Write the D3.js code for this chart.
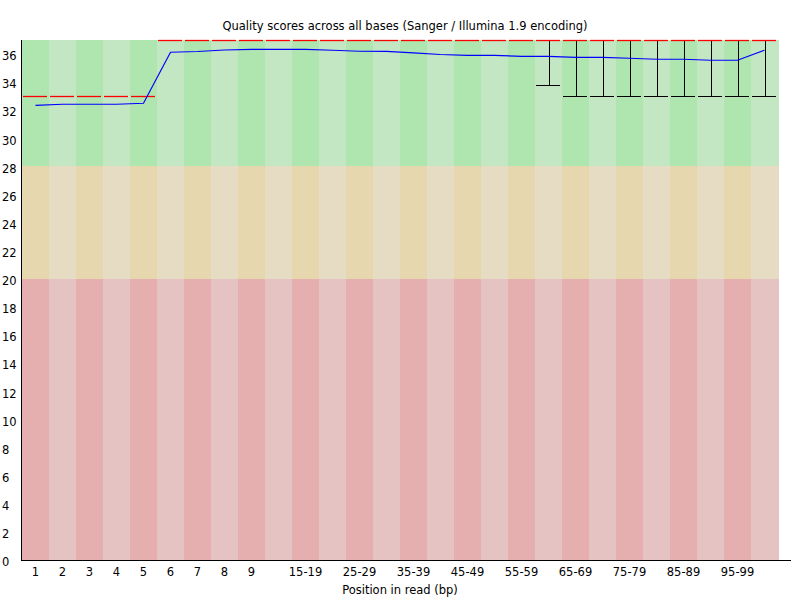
<!DOCTYPE html>
<html>
<head>
<meta charset="utf-8">
<script src="https://cdn.jsdelivr.net/npm/d3@7"></script>
<style>
  body { margin: 0; background: #fff; }
  svg text { font-family: "DejaVu Sans", sans-serif; font-size: 11.5px; fill: #000; }
</style>
</head>
<body>
<svg id="chart" width="800" height="600"></svg>
<script>
/* per base quality chart */
var categories = ["1","2","3","4","5","6","7","8","9","10-14","15-19","20-24","25-29",
  "30-34","35-39","40-44","45-49","50-54","55-59","60-64","65-69","70-74","75-79",
  "80-84","85-89","90-94","95-99","100"];
var meanQ = [32.35, 32.43, 32.43, 32.43, 32.5, 36.13, 36.18, 36.29, 36.34, 36.34, 36.33,
  36.27, 36.2, 36.19, 36.08, 35.97, 35.91, 35.9, 35.84, 35.84, 35.77, 35.77, 35.7,
  35.63, 35.63, 35.56, 35.56, 36.27];
var medianQ = [33, 33, 33, 33, 33, 37, 37, 37, 37, 37, 37, 37, 37, 37, 37, 37, 37, 37,
  37, 37, 37, 37, 37, 37, 37, 37, 37, 37];
var lowWhisker = [33, 33, 33, 33, 33, 37, 37, 37, 37, 37, 37, 37, 37, 37, 37, 37, 37, 37,
  37, 33.8, 33, 33, 33, 33, 33, 33, 33, 33];
var highWhisker = [33, 33, 33, 33, 33, 37, 37, 37, 37, 37, 37, 37, 37, 37, 37, 37, 37, 37,
  37, 37, 37, 37, 37, 37, 37, 37, 37, 37];
var xLabels = ["1","2","3","4","5","6","7","8","9","15-19","25-29","35-39","45-49",
  "55-59","65-69","75-79","85-89","95-99"];
var yTicks = [0, 2, 4, 6, 8, 10, 12, 14, 16, 18, 20, 22, 24, 26, 28, 30, 32, 34, 36];
var zones = [
  {from: 28, to: 37, dark: "rgb(175,230,175)", light: "rgb(195,230,195)"},
  {from: 20, to: 28, dark: "rgb(230,215,175)", light: "rgb(230,220,195)"},
  {from: 0, to: 20, dark: "rgb(230,175,175)", light: "rgb(230,195,195)"}
];

var svg = d3.select("#chart");

var x = d3.scaleBand().domain(categories).range([22, 778]).padding(0);
var y = d3.scaleLinear().domain([0, 37]).range([560, 40]);
var bw = x.bandwidth();

// Background stripes
zones.forEach(function(z) {
  svg.append("g").selectAll("rect")
    .data(categories)
    .enter()
    .append("rect")
    .attr("x", function(d) { return x(d); })
    .attr("width", bw + 0.5)
    .attr("y", y(z.to))
    .attr("height", y(z.from) - y(z.to))
    .attr("fill", function(d, i) { return i % 2 == 0 ? z.dark : z.light; })
    .attr("shape-rendering", "crispEdges");
});

var data = categories.map(function(c, i) {
  return {cat: c, mean: meanQ[i], median: medianQ[i], lo: lowWhisker[i], hi: highWhisker[i]};
});

// Whiskers
svg.append("g").selectAll("line.whisker")
  .data(data.filter(function(d) { return d.lo != d.hi; }))
  .enter()
  .append("line")
  .attr("class", "whisker")
  .attr("x1", function(d) { return Math.round(x(d.cat) + bw / 2) + 0.5; })
  .attr("x2", function(d) { return Math.round(x(d.cat) + bw / 2) + 0.5; })
  .attr("y1", function(d) { return y(d.lo); })
  .attr("y2", function(d) { return y(d.hi); })
  .attr("stroke", "#000");

svg.append("g").selectAll("line.cap")
  .data(data.filter(function(d) { return d.lo != d.hi; }))
  .enter()
  .append("line")
  .attr("class", "cap")
  .attr("x1", function(d) { return x(d.cat) + 1; })
  .attr("x2", function(d) { return x(d.cat) + bw - 2; })
  .attr("y1", function(d) { return Math.round(y(d.lo)) + 0.5; })
  .attr("y2", function(d) { return Math.round(y(d.lo)) + 0.5; })
  .attr("stroke", "#000");

// Median segments
svg.append("g").selectAll("line.median")
  .data(data)
  .enter()
  .append("line")
  .attr("class", "median")
  .attr("x1", function(d) { return x(d.cat) + 1; })
  .attr("x2", function(d) { return x(d.cat) + bw - 2; })
  .attr("y1", function(d) { return Math.round(y(d.median)) + 0.5; })
  .attr("y2", function(d) { return Math.round(y(d.median)) + 0.5; })
  .attr("stroke", "#f00")
  .attr("stroke-width", 1.3);

// Mean line
var meanLine = d3.line()
  .x(function(d) { return x(d.cat) + bw / 2; })
  .y(function(d) { return y(d.mean); });

svg.append("path")
  .datum(data)
  .attr("d", meanLine)
  .attr("fill", "none")
  .attr("stroke", "#0000ff")
  .attr("stroke-width", 1.2);

// Y axis
var yAxis = svg.append("g")
  .attr("transform", "translate(21.5,0)")
  .call(d3.axisLeft(y).tickValues(yTicks).tickSize(0).tickFormat(d3.format("d")));
yAxis.select(".domain").remove();
yAxis.selectAll("text")
  .attr("x", -19.5)
  .attr("y", 2)
  .attr("text-anchor", "start")
  .style("font-family", "DejaVu Sans, sans-serif")
  .style("font-size", "11.5px");

svg.append("line")
  .attr("x1", 21.5).attr("x2", 21.5)
  .attr("y1", 40).attr("y2", 560)
  .attr("stroke", "#000");

// X axis
var xAxis = svg.append("g")
  .attr("transform", "translate(0,560)")
  .call(d3.axisBottom(x).tickValues(xLabels).tickSize(0));
xAxis.select(".domain").remove();
xAxis.selectAll("text")
  .attr("y", 8)
  .style("font-family", "DejaVu Sans, sans-serif")
  .style("font-size", "11.5px");

svg.append("line")
  .attr("x1", 21).attr("x2", 791)
  .attr("y1", 560.5).attr("y2", 560.5)
  .attr("stroke", "#000");

// Titles
svg.append("text")
  .attr("x", 405)
  .attr("y", 29.5)
  .attr("text-anchor", "middle")
  .text("Quality scores across all bases (Sanger / Illumina 1.9 encoding)");

svg.append("text")
  .attr("x", 400)
  .attr("y", 594)
  .attr("text-anchor", "middle")
  .text("Position in read (bp)");
</script>
</body>
</html>
